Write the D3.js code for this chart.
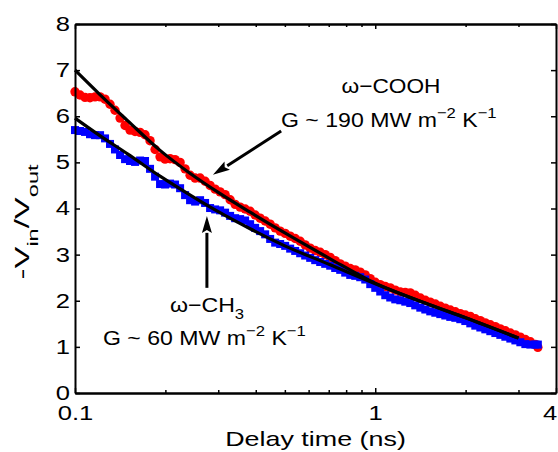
<!DOCTYPE html>
<html>
<head>
<meta charset="utf-8">
<script src="https://cdn.jsdelivr.net/npm/d3@7"></script>
<style>
  body { margin: 0; background: #fff; }
  text { font-family: "Liberation Sans", Arial, sans-serif; fill: #000; }
</style>
</head>
<body>
<div id="chart"></div>
<script>
// delay times (ns), same for both monolayers
var delayTime = [0.1, 0.1039, 0.108, 0.1122, 0.1166, 0.1212, 0.1259, 0.1308, 0.1359, 0.1413,
  0.1468, 0.1525, 0.1585, 0.1647, 0.1711, 0.1778, 0.1848, 0.192, 0.1995, 0.2073,
  0.2154, 0.2239, 0.2326, 0.2417, 0.2512, 0.261, 0.2712, 0.2818, 0.2929, 0.3043,
  0.3162, 0.3286, 0.3415, 0.3548, 0.3687, 0.3831, 0.3981, 0.4137, 0.4299, 0.4467,
  0.4642, 0.4823, 0.5012, 0.5208, 0.5412, 0.5623, 0.5843, 0.6072, 0.631, 0.6556,
  0.6813, 0.7079, 0.7356, 0.7644, 0.7943, 0.8254, 0.8577, 0.8913, 0.9261, 0.9624,
  1.0, 1.039, 1.08, 1.122, 1.166, 1.212, 1.259, 1.308, 1.359, 1.413,
  1.468, 1.525, 1.585, 1.647, 1.711, 1.778, 1.848, 1.92, 1.995, 2.073,
  2.154, 2.239, 2.326, 2.417, 2.512, 2.61, 2.712, 2.818, 2.929, 3.043,
  3.162, 3.286, 3.415, 3.48];

// -Vin/Vout, omega-COOH (red circles)
var cooh = [6.53, 6.46, 6.41, 6.40, 6.42, 6.42, 6.37, 6.26, 6.13, 5.96,
  5.80, 5.70, 5.67, 5.65, 5.60, 5.47, 5.28, 5.12, 5.07, 5.08,
  5.06, 5.00, 4.86, 4.72, 4.66, 4.66, 4.59, 4.50, 4.42, 4.36,
  4.30, 4.19, 4.09, 4.03, 3.99, 3.94, 3.86, 3.79, 3.73, 3.66,
  3.58, 3.51, 3.46, 3.40, 3.35, 3.29, 3.21, 3.14, 3.09, 3.05,
  3.00, 2.94, 2.87, 2.80, 2.75, 2.70, 2.67, 2.62, 2.56, 2.48,
  2.40, 2.35, 2.31, 2.28, 2.23, 2.19, 2.18, 2.17, 2.12, 2.06,
  2.01, 1.97, 1.93, 1.88, 1.84, 1.80, 1.76, 1.72, 1.69, 1.66,
  1.61, 1.57, 1.52, 1.48, 1.44, 1.39, 1.35, 1.30, 1.26, 1.21,
  1.16, 1.11, 1.05, 0.99];

// -Vin/Vout, omega-CH3 (blue squares)
var ch3 = [5.70, 5.68, 5.66, 5.61, 5.59, 5.59, 5.52, 5.40, 5.28, 5.16,
  5.07, 5.03, 5.01, 5.04, 5.03, 4.86, 4.69, 4.53, 4.52, 4.54,
  4.52, 4.44, 4.29, 4.18, 4.15, 4.18, 4.12, 4.01, 3.98, 3.96,
  3.91, 3.84, 3.79, 3.77, 3.74, 3.66, 3.58, 3.51, 3.44, 3.34,
  3.26, 3.23, 3.19, 3.13, 3.08, 3.03, 2.98, 2.93, 2.88, 2.84,
  2.80, 2.76, 2.71, 2.67, 2.61, 2.56, 2.54, 2.51, 2.46, 2.36,
  2.28, 2.20, 2.12, 2.07, 2.03, 2.01, 1.98, 1.95, 1.90, 1.85,
  1.81, 1.77, 1.74, 1.71, 1.68, 1.65, 1.63, 1.60, 1.56, 1.51,
  1.46, 1.42, 1.38, 1.34, 1.30, 1.26, 1.22, 1.18, 1.14, 1.10,
  1.06, 1.05, 1.05, 1.05];

// model fits (black lines)
var fitTime = [0.1, 0.121, 0.15, 0.192, 0.242, 0.3, 0.383, 0.5, 0.708, 1.0, 1.51, 2.0, 3.0];
var fitCooh = [7.00, 6.47, 5.90, 5.26, 4.76, 4.35, 3.92, 3.47, 2.91, 2.38, 1.92, 1.63, 1.19];
var fitCh3 = [5.96, 5.58, 5.18, 4.70, 4.29, 3.93, 3.56, 3.19, 2.78, 2.37, 1.92, 1.63, 1.19];

var xTicks = [0.1, 1, 4];
var xMinorTicks = [0.2, 0.3, 0.4, 0.5, 0.6, 0.7, 0.8, 0.9, 2, 3];
var yTicks = [0, 1, 2, 3, 4, 5, 6, 7, 8];

var width = 558, height = 452;
var plotLeft = 75, plotRight = 556, plotTop = 24, plotBottom = 393;
var axisStretch = 1.28;  // the lettering in the original is wide
var noteStretch = 1.1;

var svg = d3.select("#chart").append("svg")
  .attr("width", width)
  .attr("height", height);

var x = d3.scaleLog().domain([0.1, 4]).range([plotLeft, plotRight]);
var y = d3.scaleLinear().domain([0, 8]).range([plotBottom, plotTop]);

// markers
svg.append("g").selectAll("circle")
  .data(delayTime)
  .join("circle")
  .attr("cx", function (d) { return x(d); })
  .attr("cy", function (d, i) { return y(cooh[i]); })
  .attr("r", 4.7)
  .style("fill", "#ff0000");

svg.append("g").selectAll("rect")
  .data(delayTime)
  .join("rect")
  .attr("x", function (d) { return x(d) - 4; })
  .attr("y", function (d, i) { return y(ch3[i]) - 4; })
  .attr("width", 8)
  .attr("height", 8)
  .style("fill", "#0000ff");

// fits
var line = d3.line()
  .x(function (d) { return x(d[0]); })
  .y(function (d) { return y(d[1]); })
  .curve(d3.curveMonotoneX);

[fitCooh, fitCh3].forEach(function (fit) {
  svg.append("path")
    .datum(fitTime.map(function (t, i) { return [t, fit[i]]; }))
    .attr("d", line)
    .style("fill", "none")
    .style("stroke", "#000")
    .style("stroke-width", 3.2);
});

// arrows
function arrow(x1, y1, x2, y2) {
  var ang = Math.atan2(y2 - y1, x2 - x1);
  var len = 17, half = 5;
  var bx = x2 - len * Math.cos(ang), by = y2 - len * Math.sin(ang);
  svg.append("line")
    .attr("x1", x1).attr("y1", y1)
    .attr("x2", bx).attr("y2", by)
    .style("stroke", "#000")
    .style("stroke-width", 3);
  var pts = [
    [x2, y2],
    [bx + half * Math.sin(ang), by - half * Math.cos(ang)],
    [x2 - (len - 3) * Math.cos(ang), y2 - (len - 3) * Math.sin(ang)],
    [bx - half * Math.sin(ang), by + half * Math.cos(ang)]
  ];
  svg.append("path")
    .attr("d", "M" + pts.join("L") + "Z")
    .style("fill", "#000");
}
arrow(x(0.486), y(5.68), x(0.288), y(4.73));
arrow(x(0.275), y(2.28), x(0.275), y(3.84));

// text with super/subscripts
function label(px, py, anchor, size, stretch, parts) {
  var t = svg.append("text")
    .attr("transform", "translate(" + px + "," + py + ") scale(" + stretch + ",1)")
    .attr("text-anchor", anchor)
    .style("font-size", size + "px");
  var shift = 0;
  parts.forEach(function (p) {
    var s = p[1] === "sup" ? -9 : p[1] === "sub" ? 7 : 0;
    t.append("tspan")
      .attr("dy", s - shift)
      .style("font-size", (p[1] ? size * 0.72 : size) + "px")
      .text(p[0]);
    shift = s;
  });
  return t;
}

label(391, 93, "middle", 21, 1.08, [["ω−COOH"]]);
label(281, 127, "start", 21, noteStretch, [["G ~ 190 MW m"], ["−2", "sup"], [" K"], ["−1", "sup"]]);
label(170, 312, "start", 21, noteStretch, [["ω−CH"], ["3", "sub"]]);
label(103, 345, "start", 21, noteStretch, [["G ~ 60 MW m"], ["−2", "sup"], [" K"], ["−1", "sup"]]);

// axes
function styleAxis(g) {
  g.select(".domain").style("stroke", "#000").style("stroke-width", 2);
  g.selectAll(".tick line").style("stroke", "#000").style("stroke-width", 1.5);
  g.selectAll("text").style("font-size", "20px").attr("font-family", null);
}

var gx = svg.append("g")
  .attr("transform", "translate(0," + plotBottom + ")")
  .call(d3.axisBottom(x).tickValues(xTicks).tickSize(-5).tickSizeOuter(0)
    .tickPadding(13).tickFormat(d3.format("")));
gx.call(styleAxis);
gx.selectAll("text").attr("transform", "scale(" + axisStretch + ",1)")
  .attr("dx", function (d) { return d === 4 ? "-0.25em" : 0; });

svg.append("g")
  .attr("transform", "translate(0," + plotBottom + ")")
  .call(d3.axisBottom(x).tickValues(xMinorTicks).tickSize(-3).tickSizeOuter(0).tickFormat(""))
  .call(styleAxis);

svg.append("g")
  .attr("transform", "translate(0," + plotTop + ")")
  .call(d3.axisTop(x).tickValues(xTicks).tickSize(-5).tickSizeOuter(0).tickFormat(""))
  .call(styleAxis);

svg.append("g")
  .attr("transform", "translate(0," + plotTop + ")")
  .call(d3.axisTop(x).tickValues(xMinorTicks).tickSize(-3).tickSizeOuter(0).tickFormat(""))
  .call(styleAxis);

var gy = svg.append("g")
  .attr("transform", "translate(" + plotLeft + ",0)")
  .call(d3.axisLeft(y).tickValues(yTicks).tickSize(-5).tickSizeOuter(0).tickPadding(5));
gy.call(styleAxis);
gy.selectAll("text").attr("transform", "scale(" + axisStretch + ",1)")
  .attr("x", -5 / axisStretch);

svg.append("g")
  .attr("transform", "translate(" + plotRight + ",0)")
  .call(d3.axisRight(y).tickValues(yTicks).tickSize(-5).tickSizeOuter(0).tickFormat(""))
  .call(styleAxis);

// axis titles
label((plotLeft + plotRight) / 2, 446, "middle", 21, axisStretch, [["Delay time (ns)"]]);

var yl = svg.append("text")
  .attr("transform", "translate(29,222) rotate(-90) scale(1.57,1)")
  .attr("text-anchor", "middle")
  .style("font-size", "21px");
yl.append("tspan").text("-V");
yl.append("tspan").attr("dy", 9).style("font-size", "15px").text("in");
yl.append("tspan").attr("dy", -9).text("/V");
yl.append("tspan").attr("dy", 9).style("font-size", "15px").text("out");
</script>
</body>
</html>
